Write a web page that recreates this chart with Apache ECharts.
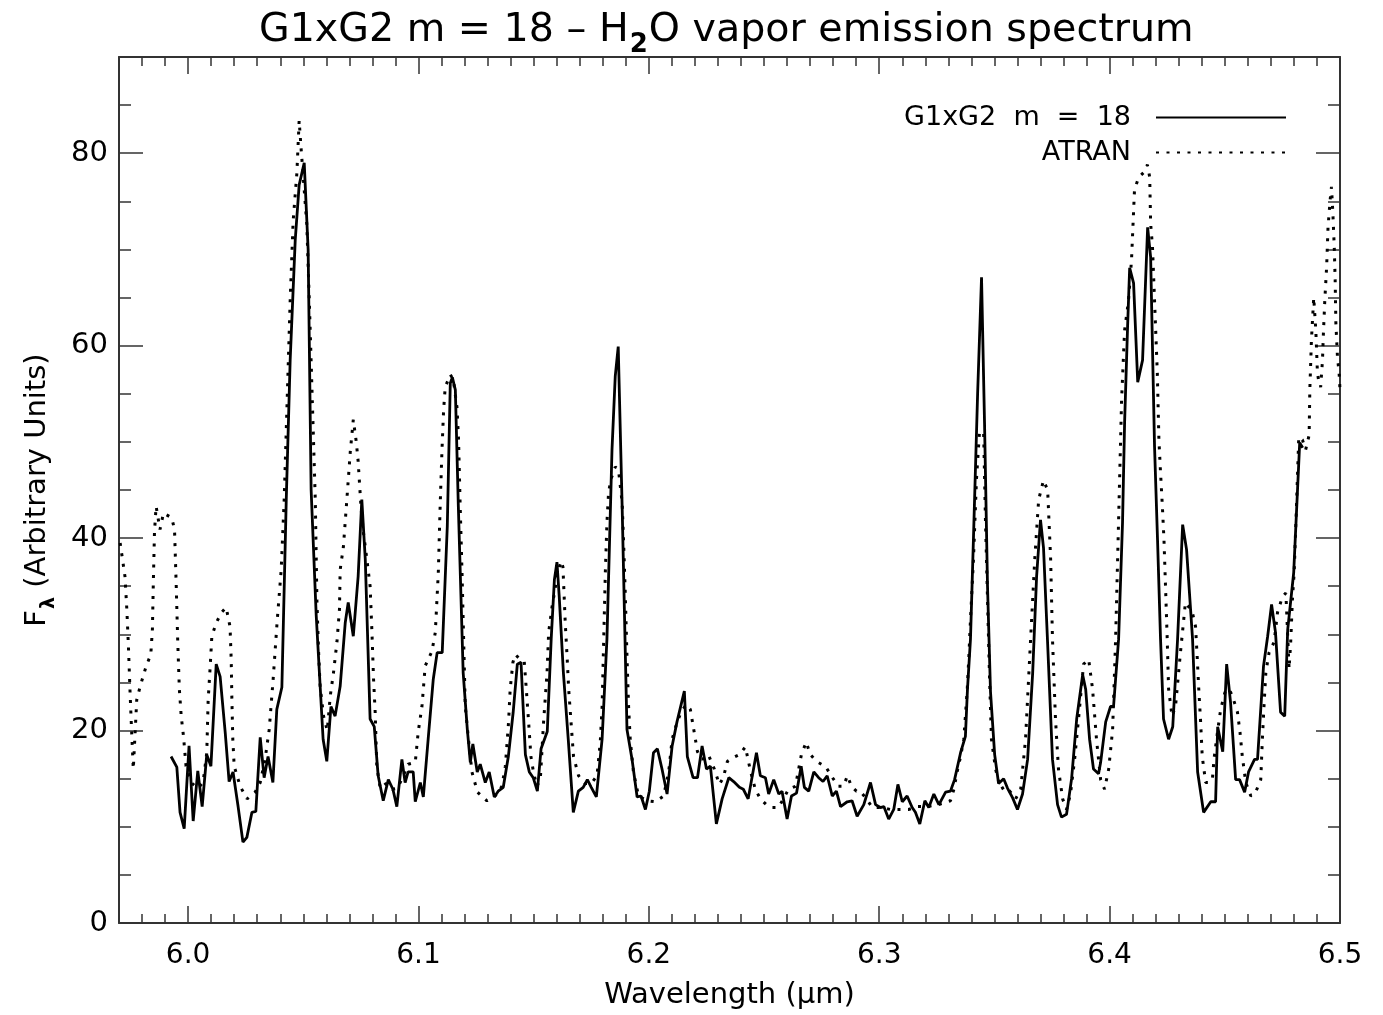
<!DOCTYPE html>
<html><head><meta charset="utf-8">
<script src="https://cdn.jsdelivr.net/npm/echarts@6/dist/echarts.min.js"></script>
<style>html,body{margin:0;padding:0;background:#fff}#c{width:1383px;height:1015px}</style>
</head><body><div id="c"></div>
<script>
// ---- data ----
const g12Wave = [5.9926,5.9951,5.9965,5.9983,6.0004,6.0022,6.0042,6.0061,6.0081,6.0099,6.0122,6.0139,6.0161,6.0178,6.0195,6.0217,6.0238,6.0255,6.0277,6.0294,6.0313,6.0330,6.0347,6.0368,6.0385,6.0407,6.0426,6.0443,6.0465,6.0482,6.0504,6.0521,6.0534,6.0556,6.0586,6.0602,6.0620,6.0638,6.0660,6.0682,6.0695,6.0717,6.0738,6.0754,6.0769,6.0790,6.0808,6.0825,6.0847,6.0869,6.0889,6.0906,6.0928,6.0942,6.0955,6.0977,6.0986,6.1008,6.1021,6.1042,6.1064,6.1081,6.1103,6.1125,6.1138,6.1147,6.1160,6.1173,6.1194,6.1212,6.1225,6.1236,6.1255,6.1268,6.1290,6.1307,6.1329,6.1346,6.1368,6.1390,6.1411,6.1429,6.1445,6.1464,6.1481,6.1498,6.1516,6.1532,6.1559,6.1576,6.1590,6.1601,6.1611,6.1629,6.1650,6.1672,6.1694,6.1715,6.1733,6.1750,6.1772,6.1797,6.1818,6.1840,6.1854,6.1867,6.1884,6.1905,6.1927,6.1949,6.1966,6.1985,6.2002,6.2020,6.2037,6.2057,6.2079,6.2101,6.2122,6.2154,6.2167,6.2192,6.2211,6.2231,6.2250,6.2267,6.2293,6.2318,6.2347,6.2368,6.2393,6.2410,6.2431,6.2467,6.2484,6.2506,6.2520,6.2542,6.2564,6.2578,6.2600,6.2619,6.2641,6.2661,6.2675,6.2694,6.2716,6.2737,6.2756,6.2774,6.2796,6.2814,6.2832,6.2861,6.2882,6.2904,6.2933,6.2962,6.2984,6.3005,6.3020,6.3041,6.3063,6.3081,6.3100,6.3121,6.3143,6.3157,6.3176,6.3198,6.3215,6.3237,6.3259,6.3288,6.3309,6.3327,6.3353,6.3374,6.3383,6.3396,6.3409,6.3427,6.3444,6.3457,6.3470,6.3483,6.3501,6.3518,6.3540,6.3557,6.3579,6.3600,6.3622,6.3644,6.3666,6.3683,6.3700,6.3713,6.3731,6.3752,6.3774,6.3791,6.3813,6.3835,6.3857,6.3883,6.3896,6.3913,6.3930,6.3952,6.3961,6.3983,6.4004,6.4017,6.4039,6.4056,6.4065,6.4078,6.4087,6.4104,6.4122,6.4143,6.4165,6.4178,6.4195,6.4208,6.4221,6.4234,6.4256,6.4274,6.4295,6.4317,6.4334,6.4360,6.4382,6.4408,6.4439,6.4460,6.4469,6.4491,6.4508,6.4525,6.4547,6.4564,6.4586,6.4603,6.4629,6.4642,6.4668,6.4686,6.4703,6.4720,6.4742,6.4760,6.4773,6.4799,6.4825,6.4838];
const g12Flux = [17.3,16.2,11.5,9.8,18.4,10.6,15.8,12.1,17.5,16.3,26.9,25.6,19.8,14.7,15.7,12.1,8.4,8.9,11.5,11.6,19.3,15.1,17.3,14.6,22.2,24.5,44.0,58.5,71.0,76.7,79.0,70.0,45.0,32.0,19.1,16.8,22.5,21.5,24.6,31.2,33.3,29.8,36.0,44.0,37.8,21.2,20.4,15.3,12.7,14.9,13.9,12.1,17.0,14.6,15.7,15.7,12.6,14.6,13.1,19.1,25.3,28.1,28.1,41.2,56.1,56.7,55.4,43.3,26.0,20.1,16.7,18.6,15.7,16.5,14.6,15.7,13.1,13.7,14.1,17.3,21.9,26.9,27.1,17.5,15.7,15.1,13.7,18.1,19.9,29.5,35.7,37.5,33.9,26.0,19.1,11.5,13.7,14.1,14.9,14.1,13.1,19.1,29.5,49.2,56.8,59.9,43.3,20.1,17.0,13.1,13.2,11.8,13.7,17.7,18.1,16.0,13.4,18.4,20.9,24.1,17.3,15.1,15.1,18.4,16.0,16.3,10.3,12.9,15.1,14.7,14.1,13.9,12.9,17.7,15.3,15.1,13.4,14.9,13.4,13.7,10.8,13.2,13.5,16.3,14.1,13.7,15.7,15.1,14.7,15.3,13.2,13.7,12.1,12.6,12.7,11.1,12.3,14.6,12.3,12.0,12.1,10.8,11.8,14.4,12.6,13.2,12.0,11.5,10.3,12.7,12.0,13.4,12.3,13.6,13.7,14.9,17.7,19.4,24.3,29.5,40.0,55.0,67.1,52.0,35.0,24.0,17.5,14.5,15.0,14.0,13.0,11.8,13.4,17.0,26.0,36.0,41.9,39.0,29.0,17.0,12.3,11.0,11.3,15.0,21.2,25.8,24.3,19.1,16.0,15.5,16.7,20.9,22.5,22.5,29.5,41.6,52.0,62.0,68.1,66.5,56.2,58.5,72.3,69.2,49.5,39.8,29.5,21.2,19.1,20.4,29.5,41.4,38.8,29.5,15.7,11.5,12.6,12.6,20.4,17.8,26.9,22.9,14.9,14.9,13.6,15.7,17.0,17.0,26.7,29.8,33.1,30.2,21.9,21.5,30.5,36.4,49.9,49.4];

const atranWave = [5.9705,5.9726,5.9734,5.9741,5.9748,5.9755,5.9762,5.9770,5.9777,5.9792,5.9818,5.9838,5.9845,5.9849,5.9854,5.9861,5.9878,5.9893,5.9929,5.9941,5.9948,5.9955,5.9962,5.9970,5.9980,5.9991,6.0017,6.0043,6.0065,6.0081,6.0087,6.0096,6.0103,6.0122,6.0146,6.0165,6.0182,6.0187,6.0190,6.0194,6.0200,6.0226,6.0256,6.0291,6.0313,6.0334,6.0352,6.0369,6.0387,6.0404,6.0417,6.0430,6.0443,6.0456,6.0472,6.0482,6.0491,6.0515,6.0526,6.0539,6.0552,6.0559,6.0566,6.0573,6.0588,6.0604,6.0617,6.0631,6.0646,6.0657,6.0660,6.0674,6.0689,6.0704,6.0717,6.0730,6.0738,6.0751,6.0761,6.0776,6.0790,6.0798,6.0805,6.0812,6.0819,6.0834,6.0860,6.0886,6.0908,6.0929,6.0955,6.0986,6.0999,6.1015,6.1029,6.1042,6.1058,6.1073,6.1086,6.1094,6.1102,6.1109,6.1116,6.1138,6.1151,6.1167,6.1174,6.1181,6.1189,6.1196,6.1203,6.1217,6.1232,6.1256,6.1297,6.1333,6.1362,6.1377,6.1391,6.1398,6.1410,6.1420,6.1442,6.1459,6.1468,6.1478,6.1488,6.1499,6.1514,6.1529,6.1543,6.1558,6.1565,6.1580,6.1590,6.1604,6.1619,6.1627,6.1637,6.1645,6.1652,6.1662,6.1673,6.1695,6.1724,6.1750,6.1775,6.1789,6.1797,6.1804,6.1811,6.1818,6.1825,6.1835,6.1854,6.1868,6.1884,6.1890,6.1897,6.1905,6.1912,6.1919,6.1933,6.1955,6.1992,6.2028,6.2064,6.2086,6.2101,6.2119,6.2141,6.2163,6.2180,6.2197,6.2211,6.2232,6.2258,6.2284,6.2306,6.2323,6.2341,6.2367,6.2393,6.2419,6.2441,6.2462,6.2484,6.2510,6.2536,6.2562,6.2584,6.2606,6.2636,6.2662,6.2683,6.2701,6.2727,6.2749,6.2766,6.2797,6.2823,6.2844,6.2862,6.2879,6.2901,6.2918,6.2944,6.2970,6.3005,6.3048,6.3092,6.3127,6.3166,6.3209,6.3257,6.3309,6.3324,6.3338,6.3353,6.3367,6.3382,6.3389,6.3396,6.3409,6.3422,6.3435,6.3453,6.3461,6.3470,6.3479,6.3487,6.3505,6.3527,6.3548,6.3570,6.3592,6.3614,6.3635,6.3657,6.3675,6.3692,6.3713,6.3731,6.3744,6.3752,6.3765,6.3778,6.3796,6.3813,6.3830,6.3848,6.3865,6.3887,6.3909,6.3926,6.3943,6.3961,6.3978,6.3996,6.4013,6.4026,6.4039,6.4052,6.4065,6.4082,6.4095,6.4108,6.4122,6.4135,6.4148,6.4164,6.4174,6.4178,6.4186,6.4207,6.4214,6.4221,6.4229,6.4236,6.4243,6.4250,6.4256,6.4271,6.4286,6.4307,6.4329,6.4358,6.4373,6.4380,6.4387,6.4395,6.4402,6.4417,6.4431,6.4446,6.4453,6.4468,6.4482,6.4504,6.4525,6.4538,6.4555,6.4566,6.4576,6.4591,6.4613,6.4634,6.4656,6.4663,6.4670,6.4678,6.4692,6.4714,6.4729,6.4750,6.4765,6.4779,6.4786,6.4794,6.4801,6.4812,6.4821,6.4837,6.4851,6.4866,6.4869,6.4876,6.4886,6.4895,6.4902,6.4909,6.4916,6.4924,6.4928,6.4934,6.4942,6.4948,6.4957,6.4963,6.4969,6.4975,6.4979,6.4982,6.4989,6.4996,6.5000];
const atranFlux = [39.5,36.0,32.6,28.7,24.0,19.8,16.0,19.8,23.2,24.6,26.7,27.9,30.5,35.4,40.6,43.3,40.9,42.6,42.1,40.9,35.4,29.2,24.3,21.5,19.4,16.3,14.5,14.0,14.6,17.7,23.2,26.7,29.8,31.2,32.3,32.8,30.8,27.4,23.2,19.1,16.3,14.2,12.9,13.6,14.6,17.0,20.1,25.3,31.5,36.7,44.0,54.4,64.7,73.0,77.9,83.4,80.3,72.7,64.7,54.4,44.0,33.6,28.4,24.6,21.5,20.0,23.6,26.0,29.2,32.6,36.7,39.1,44.0,49.0,52.3,50.0,48.0,43.0,40.6,37.8,35.0,30.2,25.3,21.9,16.3,14.0,14.5,13.9,14.0,15.0,16.5,16.7,19.9,22.5,26.7,27.4,28.2,30.2,36.4,43.3,49.2,53.3,55.7,57.0,56.5,53.6,50.2,43.3,36.4,29.5,22.5,19.1,15.7,13.6,12.7,13.2,14.2,16.3,20.9,24.3,27.1,27.9,27.4,27.2,24.3,20.9,17.3,15.7,14.2,15.0,20.9,26.0,30.2,32.9,34.3,36.4,37.6,37.0,31.2,27.7,24.3,20.9,17.3,15.3,14.5,14.5,15.3,18.8,22.5,29.5,36.4,41.6,44.7,46.1,47.4,47.1,43.7,39.8,34.7,27.7,22.5,19.1,15.7,13.2,12.7,12.6,13.2,15.7,19.1,20.6,22.0,22.7,22.2,19.8,17.8,17.0,17.5,16.0,14.4,15.1,16.8,17.2,17.5,18.3,15.8,13.9,12.9,12.3,12.0,12.0,12.9,13.9,14.2,17.5,18.8,17.5,16.8,16.5,16.3,15.1,14.2,14.2,15.3,14.2,13.7,13.7,12.9,12.0,12.0,11.8,11.8,11.8,12.1,12.1,12.3,12.7,13.9,15.7,17.3,19.1,24.3,27.7,31.5,37.8,46.1,51.0,51.0,41.9,33.6,25.3,19.1,16.0,13.9,14.2,13.6,12.9,13.9,19.1,29.5,37.8,44.0,46.0,45.0,37.8,29.5,21.2,16.0,12.9,11.8,13.4,17.0,21.2,26.9,27.4,24.3,19.1,14.9,13.9,16.0,20.1,29.5,41.9,54.4,61.6,64.7,68.9,76.2,77.2,77.7,78.0,78.8,77.5,72.7,70.3,57.2,50.2,46.8,43.3,39.8,34.7,29.5,24.3,21.5,22.5,28.0,33.3,32.4,30.8,27.7,24.3,20.9,17.3,14.6,14.6,14.9,17.0,19.8,22.2,24.3,24.0,23.2,21.9,19.8,17.3,14.6,13.2,13.6,14.9,19.1,22.5,26.0,28.1,29.2,32.3,33.9,34.3,26.4,29.2,33.9,36.4,44.0,50.5,50.2,49.2,50.7,55.4,60.6,65.0,61.6,57.2,56.1,55.7,58.5,61.3,64.7,68.2,72.3,75.1,76.5,73.8,70.3,66.8,62.4,58.8,57.2,55.4];

const seriesNames = ['G1xG2  m  =  18', 'ATRAN'];
const xLabelTicks = [6.0, 6.1, 6.2, 6.3, 6.4, 6.5];
const yLabelTicks = [0, 20, 40, 60, 80];
const xRange = [5.97, 6.5];
const yRange = [0, 90];
const xMinorStep = 0.01;
const yMinorStep = 5;

// minor tick positions (axis decoration only)
const xMinorTicks = [];
for (let k = 1; ; k++) {
  const v = +(xRange[0] + k * xMinorStep).toFixed(2);
  if (v >= xRange[1]) break;
  xMinorTicks.push(v);
}
const yMinorTicks = [];
for (let v = yRange[0] + yMinorStep; v < yRange[1]; v += yMinorStep) yMinorTicks.push(v);

const zip = (a, b) => a.map((x, i) => [x, b[i]]);
const FONT = 'DejaVu Sans';
const AX = '#333';

function xAx(pos, ticks, len, withLine, withLabel) {
  const o = {
    type: 'value', position: pos, min: xRange[0], max: xRange[1],
    axisLine: { show: withLine, onZero: false, lineStyle: { color: AX, width: 2 } },
    axisTick: { show: true, inside: true, length: len, customValues: ticks, lineStyle: { color: AX, width: 1.5 } },
    axisLabel: { show: withLabel, customValues: xLabelTicks, formatter: v => v.toFixed(1), margin: 19,
      fontSize: 28, fontFamily: FONT, color: '#000' },
    splitLine: { show: false }
  };
  if (withLabel) {
    o.name = 'Wavelength (μm)';
    o.nameLocation = 'middle';
    o.nameGap = 58;
    o.nameTextStyle = { fontSize: 29, fontFamily: FONT, color: '#000' };
  }
  return o;
}
function yAx(pos, ticks, len, withLine, withLabel) {
  const o = {
    type: 'value', position: pos, min: yRange[0], max: yRange[1],
    axisLine: { show: withLine, onZero: false, lineStyle: { color: AX, width: 2 } },
    axisTick: { show: true, inside: true, length: len, customValues: ticks, lineStyle: { color: AX, width: 1.5 } },
    axisLabel: { show: withLabel, customValues: yLabelTicks, margin: 11,
      fontSize: 29, fontFamily: FONT, color: '#000' },
    splitLine: { show: false }
  };
  if (withLabel) {
    o.name = '{t|F}{s|λ}{t| (Arbitrary Units)}';
    o.nameLocation = 'middle';
    o.nameGap = 64;
    o.nameTextStyle = { fontSize: 29, fontFamily: FONT, color: '#000',
      rich: { t: { fontSize: 29, fontFamily: FONT, verticalAlign: 'top', lineHeight: 32 },
              s: { fontSize: 19, fontFamily: FONT, fontWeight: 'bold', verticalAlign: 'top', lineHeight: 20, padding: [17, 0, 0, 1] } } };
  }
  return o;
}

const chart = echarts.init(document.getElementById('c'), null, { renderer: 'canvas' });
chart.setOption({
  animation: false,
  backgroundColor: '#fff',
  title: {
    text: '{t|G1xG2 m = 18 – H}{s|2}{t|O vapor emission spectrum}',
    left: 254, top: 6,
    textStyle: { fontSize: 39.6, fontWeight: 'normal', fontFamily: FONT, color: '#000',
      rich: { t: { fontSize: 39.6, fontFamily: FONT, verticalAlign: 'top', lineHeight: 44 },
              s: { fontSize: 26, fontFamily: FONT, fontWeight: 'bold', verticalAlign: 'top', lineHeight: 28, padding: [21, 1, 0, 1] } } }
  },
  grid: { left: 119, right: 43, top: 57, bottom: 91, containLabel: false },
  legend: {
    orient: 'vertical', right: 91, top: 99, align: 'right',
    itemWidth: 130, itemHeight: 14, itemGap: 8,
    itemStyle: { opacity: 0 },
    data: seriesNames,
    textStyle: { fontSize: 27, fontFamily: FONT, color: '#000', padding: [0, 20, 0, 0] }
  },
  xAxis: [
    xAx('bottom', xLabelTicks, 17, true, true),
    xAx('bottom', xMinorTicks, 9, false, false),
    xAx('top', xLabelTicks, 17, true, false),
    xAx('top', xMinorTicks, 9, false, false)
  ],
  yAxis: [
    yAx('left', yLabelTicks, 24, true, true),
    yAx('left', yMinorTicks, 12, false, false),
    yAx('right', yLabelTicks, 24, true, false),
    yAx('right', yMinorTicks, 12, false, false)
  ],
  series: [
    { name: seriesNames[0], type: 'line', data: zip(g12Wave, g12Flux), symbol: 'none', showSymbol: false,
      lineStyle: { color: '#000', width: 2.8 }, itemStyle: { color: '#000' }, z: 3 },
    { name: seriesNames[1], type: 'line', data: zip(atranWave, atranFlux), symbol: 'none', showSymbol: false,
      lineStyle: { color: '#000', width: 3, type: [3, 7.5], cap: 'butt' }, itemStyle: { color: '#000' }, z: 2 }
  ]
});
</script>
</body></html>
